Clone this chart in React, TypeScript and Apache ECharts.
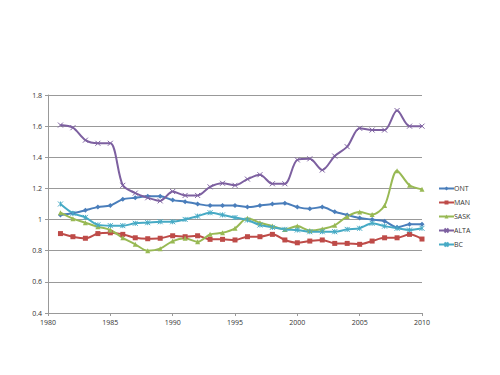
import React, { useEffect, useRef } from "react";
import * as echarts from "echarts";

const years = [1981,1982,1983,1984,1985,1986,1987,1988,1989,1990,1991,1992,1993,1994,1995,1996,1997,1998,1999,2000,2001,2002,2003,2004,2005,2006,2007,2008,2009,2010];
const ONT = [1.03,1.04,1.06,1.08,1.09,1.13,1.14,1.15,1.15,1.125,1.115,1.10,1.09,1.09,1.09,1.08,1.09,1.10,1.105,1.08,1.07,1.08,1.05,1.03,1.01,1.00,0.99,0.95,0.97,0.97];
const MAN = [0.91,0.89,0.88,0.91,0.915,0.905,0.883,0.877,0.88,0.896,0.89,0.896,0.873,0.873,0.869,0.89,0.89,0.905,0.869,0.851,0.862,0.869,0.847,0.847,0.841,0.862,0.883,0.883,0.905,0.875];
const SASK = [1.044,1.006,0.98,0.954,0.933,0.883,0.841,0.80,0.813,0.862,0.88,0.857,0.905,0.915,0.944,1.008,0.98,0.958,0.937,0.958,0.93,0.94,0.963,1.02,1.048,1.032,1.09,1.314,1.22,1.194];
const ALTA = [1.607,1.59,1.51,1.49,1.49,1.22,1.17,1.14,1.12,1.18,1.155,1.155,1.21,1.233,1.22,1.26,1.288,1.23,1.23,1.383,1.39,1.318,1.408,1.468,1.586,1.575,1.575,1.70,1.60,1.60];
const BC = [1.10,1.04,1.014,0.966,0.961,0.961,0.976,0.98,0.986,0.986,1.001,1.022,1.044,1.03,1.013,0.997,0.965,0.95,0.937,0.933,0.922,0.922,0.922,0.937,0.944,0.976,0.958,0.944,0.933,0.944];

const xTicks = { min: 1980, max: 2010, interval: 5 };
const yTicks = { min: 0.4, max: 1.8, interval: 0.2 };

const seriesDefs = [
  { name: "ONT", data: ONT, color: "#4A7EBB", symbol: "diamond", size: 5 },
  { name: "MAN", data: MAN, color: "#BE4B48", symbol: "rect", size: 5 },
  { name: "SASK", data: SASK, color: "#98B954", symbol: "triangle", size: 5 },
  { name: "ALTA", data: ALTA, color: "#7D60A0", symbol: "path://M0,0L10,10M10,0L0,10", size: 5 },
  { name: "BC", data: BC, color: "#46AAC5", symbol: "path://M0,0L10,10M10,0L0,10M5,0L5,10", size: 5 },
];

export default function App() {
  const ref = useRef<HTMLDivElement>(null);
  useEffect(() => {
    document.body.style.margin = "0";
    if (!ref.current) return;
    const chart = echarts.init(ref.current, undefined, { renderer: "svg" });
    chart.setOption({
      animation: false,
      backgroundColor: "#fff",
      textStyle: { fontFamily: "Open Sans, DejaVu Sans, sans-serif" },
      grid: { left: 48, right: 78, top: 95, bottom: 62, containLabel: false },
      legend: {
        orient: "vertical",
        left: 433,
        top: 180,
        itemWidth: 15,
        itemHeight: 5,
        itemGap: 7,
        textStyle: { fontSize: 7, color: "#333", padding: [0, 0, 0, -5] },
        data: seriesDefs.map((s) => s.name),
      },
      xAxis: {
        type: "value",
        min: xTicks.min,
        max: xTicks.max,
        interval: xTicks.interval,
        axisLine: { lineStyle: { color: "#999" } },
        axisTick: { show: true, length: 3, lineStyle: { color: "#999" } },
        axisLabel: { fontSize: 7, color: "#333", margin: 6, formatter: (v: number) => String(v) },
        splitLine: { show: false },
      },
      yAxis: {
        type: "value",
        min: yTicks.min,
        max: yTicks.max,
        interval: yTicks.interval,
        axisLine: { show: true, lineStyle: { color: "#999" } },
        axisTick: { show: true, length: 3, lineStyle: { color: "#999" } },
        axisLabel: { fontSize: 7, color: "#333", margin: 6, formatter: (v: number) => String(Math.round(v * 10) / 10) },
        splitLine: { show: true, lineStyle: { color: "#999", width: 1 } },
      },
      series: seriesDefs.map((s) => ({
        name: s.name,
        type: "line",
        smooth: 0.3,
        data: s.data.map((v, i) => [years[i], v]),
        symbol: s.symbol,
        symbolSize: s.size,
        showAllSymbol: true,
        lineStyle: { color: s.color, width: 2 },
        itemStyle: { color: s.color, borderColor: s.color, borderWidth: s.symbol.startsWith("path") ? 1 : 0 },
        emphasis: { disabled: true },
      })),
    });
    return () => chart.dispose();
  }, []);
  return <div ref={ref} style={{ width: 500, height: 375 }} />;
}
